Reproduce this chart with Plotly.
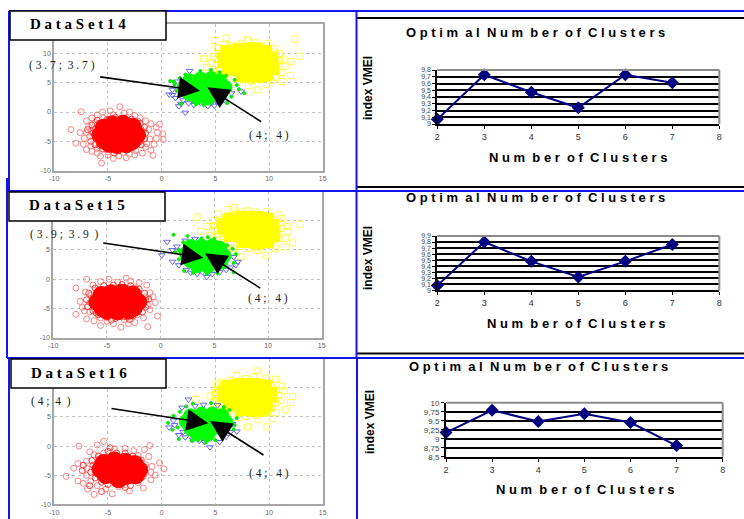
import plotly.graph_objects as go

W, H = 744, 519

# ---- cluster points (x, y) ----
RED1_OUT = [(-8.45,-3),(-7.5,0.05),(-3.9,0.9),(-4.8,0.2),(-5.6,-8.7),(-8,-5.3),(-7.6,-3.5),(0.15,-4.7),(0.1,-3.7),(-0.2,-2.1),(-0.8,-7.4),(-3.3,-7.8),(-5.7,-7.5),
 (-7,-1.5),(-6.5,-1),(-6,-0.5),(-5.5,0),(-4.5,-0.5),(-3.5,-0.2),(-3,0),(-2.5,-0.6),(-2,-1),(-1.5,-1.5),(-1,-2),(-0.5,-2.6),(-0.4,-3.5),(-0.5,-4.5),(-0.7,-5.5),(-1,-6.5),(-1.5,-6),(-1.8,-7),(-2.5,-7.3),(-3,-7.2),(-4,-7.5),(-4.5,-7.9),(-5,-7.3),(-6,-7),(-6.5,-6.7),(-7,-6.4),(-7.3,-5.5),(-7.2,-4.5),(-7,-3.5),(-6.8,-2.5),
 (-6.6,-5.8),(-6.2,-1.8),(-5.4,-1),(-2.2,-1.6),(-1.2,-3),(-1.1,-4.6),(-1.4,-5.4),(-2.4,-6.6),(-3.6,-6.9),(-5,-6.8),(-6,-6.2),(-6.7,-4.2),(-6.6,-3.2)]
RED1_MID = [(-6.5,-2.2),(-6,-1.4),(-5.1,-1.3),(-4.3,-0.9),(-3.5,-1),(-2.8,-1.2),(-2,-1.9),(-1.6,-2.6),(-1.5,-3.6),(-1.6,-4.6),(-1.9,-5.6),(-2.7,-6.1),(-3.2,-6.4),(-4,-6.6),(-4.7,-6.3),(-5.5,-6.3),(-6.2,-5.6),(-6.6,-5),(-6.4,-3.6),(-6.2,-2.9),(-5.8,-1.9),(-3,-1.6),(-1.9,-3),(-2,-5),(-4.4,-7),(-5.8,-5.7),(-6.9,-3),(-3.9,-1.3)]
RED1_CORE = [(-5.4,-2.7),(-4.6,-2.1),(-3.6,-2),(-2.7,-2.5),(-5.7,-3.9),(-4.9,-3.6),(-4,-3.4),(-3,-3.6),(-2.3,-3.9),(-5.3,-4.9),(-4.5,-5),(-3.6,-4.9),(-2.7,-4.9),(-4.2,-5.6),(-3.3,-5.5),(-4.9,-5.4)]
YEL1_OUT = [(6,12.6),(4.9,12.2),(8,12.3),(12.4,12.4),(12.9,9.5),(12.05,8.6),(9.9,11.7),(3.9,9.1),(4.2,7.6),(12,6.2),(11.2,5.2),(8.9,3.8),(8.1,4.5),(9.8,4.7),(10.6,5.9),
 (5.2,10.9),(6.5,11.4),(7.4,11.6),(8.7,11.9),(9.3,11.2),(10.4,10.8),(11,10),(11.4,9),(11.5,7.8),(11.2,6.7),(10.2,5.4),(7,5),(6,5.6),(5,6.4),(4.6,8.3),(4.8,9.5),(5.8,11.5)]
YEL1_MID = [(5.3,10),(5.8,10.7),(6.6,11),(7.5,11.1),(8.4,11.3),(9.2,10.9),(10,10.4),(10.7,9.7),(11,8.8),(10.9,7.8),(10.6,6.9),(10,6),(9.2,5.5),(8.4,5.3),(7.6,5.5),(6.8,5.8),(6,6.4),(5.4,7.1),(5.1,8),(5.1,9)]
YEL1_CORE = [(6.3,10),(7.4,10.4),(8.5,10.5),(9.5,10.1),(5.9,8.9),(6.9,9),(8,9),(9.1,9),(10.1,8.8),(6.4,7.6),(7.4,7.4),(8.5,7.4),(9.6,7.5),(10.2,7.6),(7.7,6.5),(8.8,6.4),(9.5,6.6)]
BLU1 = [(2.2,-0.1),(0.7,3),(1.6,1),(4.3,1),(7.4,3.5),(1,3.8),(1.5,5.2),(2.6,7),(3,1.2),(4.6,1.5),(5.8,2),(6.5,3.2),(2,2),(1.3,2.4),(3.6,1.6),(2.5,1.5),(1,2.9),(4.9,1.1),(1.8,1.4),(5.2,1.7)]
GRN1_OUT = [(0.8,5.3),(7.7,3.2),(3.6,7),(4.6,7.2),(6.1,1.5),(1.8,1.4),(7,4.6),(1.2,4.7),(6.8,5.5),(3.2,1.3),(1.1,5.2),(7.2,3.9),(6.5,2.6),(1.7,5.8),(2.2,6.4),(5.4,6.8),(6,6.2),(3.9,1.2),(1.4,3.6)]
GRN1_CORE = [(2.6,5.3),(3.6,5.6),(4.6,5.7),(5.4,5.3),(2.1,4.2),(3,4.3),(4,4.3),(5,4.3),(5.9,4.2),(2.6,3.1),(3.6,3),(4.6,3),(5.5,3.2),(3.3,2.5),(4.3,2.4)]

RED2_OUT = [(-7.9,-1.5),(-6.9,0),(-7.9,-6),(-6.9,-6.8),(-1.2,-8.1),(-3.7,-8.2),(-0.3,-6.3),(-0.5,-4),(-3.2,0.2),(-4.8,0),(-2,-0.6),
 (-7.5,-3.8),(-7,-2.2),(-6.3,-1),(-5.6,-0.4),(-4,-0.5),(-2.8,-0.3),(-1.3,-1),(-1,-2.3),(-0.7,-3),(-1,-5.2),(-1.6,-6.6),(-2.4,-7.4),(-3,-7.6),(-4.4,-7.6),(-5.6,-7.9),(-5,-7.2),(-6.2,-7.1),(-6.6,-5.6),(-7.3,-4.8),(-7.1,-5.4),(-6.6,-4),(-6.5,-2.8),(-5.8,-1.8),(-2.4,-1.5),(-1.4,-3),(-1.2,-4.4),(-2.2,-6.1),(-3.4,-6.9),(-5.6,-6.6)]
RED2_MID = [(-6.7,-2.4),(-6.1,-1.5),(-5.3,-1.1),(-4.4,-1),(-3.6,-0.9),(-2.8,-1.1),(-2,-1.7),(-1.5,-2.4),(-1.1,-3.4),(-1.4,-4.8),(-1.7,-5.6),(-2.6,-6.3),(-3.4,-6.4),(-4.2,-6.7),(-5,-6.5),(-5.8,-6.1),(-6.3,-5.4),(-6.8,-4.7),(-6.9,-3.5),(-6.1,-3),(-2.1,-2.4),(-1.8,-4.4),(-4.9,-1.6),(-3.2,-1.5),(-6,-5.8),(-4.6,-7),(-2.9,-6.9),(-1.4,-3.6)]
RED2_CORE = [(-5.5,-2.7),(-4.6,-2.4),(-3.6,-2.3),(-2.6,-2.6),(-5.9,-3.9),(-5,-3.7),(-4,-3.7),(-3,-3.7),(-2.1,-3.9),(-5.4,-5),(-4.4,-5),(-3.4,-5),(-2.5,-4.9),(-4,-5.5),(-3,-5.4),(-5,-5.4)]
YEL2_OUT = [(6.8,12.3),(3.4,10.6),(8.1,11.7),(13,9.4),(12.3,6.2),(11.7,5.5),(9.8,4.1),(7.5,3.8),(3.7,8.2),
 (5.4,11.2),(6.3,11.9),(7.5,11.5),(8.9,11.5),(9.9,11.6),(11,11),(11.3,10.4),(11.8,9),(11.9,8.2),(11.6,7),(10.7,5.3),(9,4.9),(6.8,5.2),(5.7,6.3),(4.5,7.5),(4.3,9),(5,10)]
YEL2_MID = [(5.4,9.9),(6,10.6),(6.9,11),(7.9,11),(8.8,11.1),(9.7,10.9),(10.4,10.3),(11,9.6),(11.2,8.7),(11,7.7),(10.6,6.7),(10,5.9),(9.1,5.5),(8.2,5.3),(7.3,5.6),(6.5,6),(5.9,6.9),(5.3,7.7),(5,8.4),(4.9,9.2)]
YEL2_CORE = [(6.6,10),(7.7,10.3),(8.8,10.3),(9.8,10),(6,9),(7,8.9),(8.1,9),(9.2,9),(10.3,8.9),(6.6,7.8),(7.6,7.6),(8.7,7.6),(9.8,7.7),(10.4,7.7),(7.9,6.7),(9,6.5),(9.8,6.7)]
BLU2 = [(0.1,4.1),(0.6,6.4),(4.3,0.4),(7.2,3),(3.4,0.9),(1.1,3),(1.5,5.6),(2.3,6.6),(3.2,6.9),(6.5,2),(5.5,1.2),(2.4,1.6),(1.7,2.4),(6.8,3.8),(4.8,0.9),(1.1,5),(2.8,1.1),(6.1,1.6),(7,2.4),(3.9,1.2)]
GRN2_OUT = [(1.2,7.6),(2.5,7.4),(6.8,1.2),(3.8,7),(1.4,4.6),(5.3,1),(7,4.3),(2.2,1.4),(5,6.9),(6.2,5.8),(1.7,5),(6.7,5.2),(2.1,6.3),(4.4,7.2),(4.3,0.9),(3,1.1),(1.7,3.4),(6.8,2.8)]
GRN2_CORE = [(2.8,5.6),(3.8,5.7),(4.8,5.7),(5.5,5.3),(2.4,4.4),(3.3,4.4),(4.3,4.4),(5.3,4.4),(5.9,4),(2.8,3.1),(3.8,3),(4.8,3),(5.6,2.9),(3.4,2.3),(4.4,2.2)]

RED3_OUT = [(-8.9,-5.2),(-7.7,0),(-5.4,0.8),(-6,0.2),(-1.1,0.1),(-6.3,-8.3),(-4.6,-8.2),(-6.9,-7.4),(0.2,-3.9),(-0.2,-2.9),(-0.6,-5),(-1.7,-7.2),
 (-8.2,-3.8),(-7.8,-3),(-7.8,-6),(-7.3,-6.4),(-6.7,-1),(-6.3,-1.5),(-4.4,-0.5),(-3.4,-0.4),(-2.6,-0.8),(-1.6,-0.6),(-1.2,-1.8),(-0.9,-3.5),(-1,-4.5),(-1,-5.8),(-2.2,-6.3),(-3,-7.7),(-4,-7),(-5.2,-7.4),(-6,-6.8),(-6.6,-6),(-7,-5),(-7,-3.8),(-7,-2.6),(-5.4,-1.2),(-2.2,-1.6),(-1.5,-3.2),(-1.5,-4.7),(-3.4,-6.6)]
RED3_MID = [(-6.5,-2.5),(-5.9,-1.7),(-5,-0.9),(-4.2,-1.2),(-3.4,-1.2),(-2.7,-1.7),(-1.9,-2.4),(-1.6,-3.6),(-1.8,-5.3),(-2.6,-5.9),(-3.4,-7.1),(-4.3,-6.5),(-5,-6.6),(-5.6,-6.2),(-6.2,-5.5),(-6.6,-4.5),(-6.4,-3.3),(-5.8,-2.4),(-2.9,-6.8),(-5.6,-7.8),(-6.7,-6.8),(-7.4,-4.2),(-7.3,-3.3),(-4.8,-0.3)]
RED3_CORE = [(-5.4,-2.9),(-4.4,-2.5),(-3.4,-2.7),(-2.5,-3.1),(-5.7,-4),(-4.8,-3.9),(-3.8,-3.9),(-2.8,-4),(-2.1,-4.1),(-5.2,-5),(-4.2,-5.2),(-3.2,-5.1),(-2.4,-5),(-4,-5.7)]
YEL3_OUT = [(8.9,12.9),(7,12.1),(3.2,8),(12.2,8.5),(12,7.5),(11.5,6.2),(9.8,3.3),(8,3.3),(10.3,4.7),
 (5.2,10.6),(6.4,11.3),(7.8,11.6),(8.6,11.9),(9.7,11.7),(10.6,11.5),(11.2,10.3),(11.4,9.5),(11.1,7.8),(10.7,5.7),(9,4.6),(7.2,4.9),(6.2,5.8),(4.8,7.4),(4.5,8.6),(5.6,11)]
YEL3_MID = [(5.2,9.8),(5.8,10.5),(6.7,10.9),(7.6,11),(8.5,11.1),(9.4,10.9),(10.2,10.4),(10.7,9.6),(10.9,8.7),(10.6,7.4),(10.3,6.5),(9.6,5.6),(8.8,5.3),(7.9,5.1),(7,5.6),(6.3,6.3),(5.6,7),(5.1,7.8),(5,8.6),(5,9.2)]
YEL3_CORE = [(6.3,10),(7.4,10.3),(8.5,10.3),(9.5,10),(5.9,8.9),(6.9,9),(8,9),(9.1,9),(10,8.8),(6.4,7.6),(7.4,7.4),(8.5,7.4),(9.6,7.4),(7.6,6.5),(8.7,6.4),(9.4,6.6)]
BLU3 = [(2.5,8),(3.9,7.1),(4.5,-0.2),(0.7,3.2),(7,2.5),(2,2.4),(1.6,1.9),(3.5,0.9),(6.6,3.8),(1.1,4.4),(5.2,7),(2.9,1.1),(6,1.6),(1.9,6.6),(5.4,0.7),(1.2,3.6),(3.1,6.9),(6.4,2.4),(4,0.7),(2.2,1.5)]
GRN3_OUT = [(0.6,4),(1,2.8),(1.6,1.2),(2.8,0.9),(4.1,0.6),(7,4.8),(6.7,2.9),(2.3,6.8),(4.6,7.4),(6.3,6.2),(1.1,5.2),(1.5,3.2),(6.8,3.6),(3.4,1),(5,1),(5.8,6.7),(2.9,7.3),(1.7,5.9)]
GRN3_CORE = [(2.7,5.2),(3.7,5.5),(4.7,5.5),(5.6,5.2),(2.3,4.2),(3.2,4.2),(4.2,4.3),(5.2,4.3),(6,4.1),(2.7,3),(3.7,2.9),(4.7,3),(5.6,3),(3.3,2.1),(4.3,2)]

SCATTER_DATA = [
    (RED1_OUT, RED1_MID, RED1_CORE, YEL1_OUT, YEL1_MID, YEL1_CORE, BLU1, GRN1_OUT, GRN1_CORE),
    (RED2_OUT, RED2_MID, RED2_CORE, YEL2_OUT, YEL2_MID, YEL2_CORE, BLU2, GRN2_OUT, GRN2_CORE),
    (RED3_OUT, RED3_MID, RED3_CORE, YEL3_OUT, YEL3_MID, YEL3_CORE, BLU3, GRN3_OUT, GRN3_CORE),
]
SC_TICKS = [-10, -5, 0, 5, 10, 15]
SC_X_LABELS = ["-10", "-5", "0", "5", "10", "15"]
# labels the name boxes cover in the reference are left out
SC_Y_LABELS = [["-10", "-5", "0", "5", "10", ""], ["-10", "-5", "0", "5", "", ""], ["-10", "-5", "0", "5", "", ""]]

# ---- line charts ----
CLUSTERS = [2, 3, 4, 5, 6, 7]
VMEI_14 = [9.07, 9.73, 9.47, 9.24, 9.73, 9.61]
VMEI_15 = [9.08, 9.8, 9.48, 9.22, 9.48, 9.76]
VMEI_16 = [9.17, 9.79, 9.48, 9.69, 9.45, 8.81]
TICKS_14 = [9, 9.1, 9.2, 9.3, 9.4, 9.5, 9.6, 9.7, 9.8]
LABELS_14 = ["9", "9,1", "9,2", "9,3", "9,4", "9,5", "9,6", "9,7", "9,8"]
TICKS_15 = [9, 9.1, 9.2, 9.3, 9.4, 9.5, 9.6, 9.7, 9.8, 9.9]
LABELS_15 = ["9", "9,1", "9,2", "9,3", "9,4", "9,5", "9,6", "9,7", "9,8", "9,9"]
TICKS_16 = [8.5, 8.75, 9, 9.25, 9.5, 9.75, 10]
LABELS_16 = ["8,5", "8,75", "9", "9,25", "9,5", "9,75", "10"]
NAMES = ["D a t a S e t 1 4", "D a t a S e t 1 5", "D a t a S e t 1 6"]
LEFT_LABELS = ["( 3 . 7 ;  3 . 7 )", "( 3 . 9 ;  3 . 9  )", "( 4 ;  4  )"]
TITLE = "O p t i m  a l  N u m  b e r  o f  C l u s t e r s"
XTITLE = "N u m  b e r  o f  C l u s t e r s"

# ---- layout geometry (pixels) ----
SC_BOX = [(54.3, 322.7, 24, 170.7), (53.3, 321.7, 191.5, 337.7), (54.3, 322.7, 358.7, 504.3)]
LN_BOX = [(437.3, 719.3, 70, 124), (437.3, 719.3, 236, 290.3), (446, 722.7, 402.7, 456.7)]
SC_ARROWS = [((98.7,76.7,200,90.7),(262.7,122.7,207.3,87.3)),
             ((101.7,242.7,203.3,257.7),(261.7,289,205,253.3)),
             ((110,408.3,208.3,423.3),(265,456,210,421))]
NAME_BOX = [(10,11,166,40),(9,192,165,221),(11,359,166,388)]
LEFT_POS = [(62.5,65),(64.5,234),(51.5,401.7)]
RIGHT_POS = [(268.5,136),(267.5,298),(268.5,473)]
TITLE_POS = [(535,32),(535,198),(538,366)]
XT_POS = [(577.5,157),(576,323),(585,489)]
YT_POS = [(368,88),(368,258),(370,422)]
TAILS = [([1.98,2],[8.95,9.07]),([1.98,2],[8.95,9.08]),([1.92,2],[8.41,9.17])]

fx = lambda p: p / W
fy = lambda p: 1 - p / H

fig = go.Figure()
shapes, anns = [], []

def line_px(x0, y0, x1, y1, color, width):
    shapes.append(dict(type="line", xref="paper", yref="paper", x0=fx(x0), x1=fx(x1), y0=fy(y0), y1=fy(y1),
                       line=dict(color=color, width=width)))

def text_px(x, y, text, **kw):
    anns.append(dict(xref="paper", yref="paper", x=fx(x), y=fy(y), text=text, showarrow=False,
                     xanchor="center", yanchor="middle", **kw))

AX = {}
def add_cloud(pts, ax, sym, color, size, filled, opacity=1, lw=1):
    fig.add_trace(go.Scatter(x=[p[0] for p in pts], y=[p[1] for p in pts], mode="markers", xaxis=f"x{ax}", yaxis=f"y{ax}",
        showlegend=False, hoverinfo="skip", opacity=opacity,
        marker=dict(symbol=sym if filled else sym + "-open", size=size, color=color, line=dict(width=lw, color=color))))

for i in range(3):
    a = i + 1
    ro, rm, rc, yo, ym, yc, bl, go_, gc = SCATTER_DATA[i]
    add_cloud(ro, a, "circle", "#ff3030", 6, False, 0.6)
    add_cloud(rm, a, "circle", "#ff2020", 6, False, 0.85)
    add_cloud(rc, a, "circle", "#ff0000", 17, True)
    add_cloud(yo, a, "square", "#ffff40", 6, False, 0.9)
    add_cloud(ym, a, "square", "#ffff20", 6, False)
    add_cloud(yc, a, "square", "#ffff00", 15, True)
    add_cloud(bl, a, "triangle-down", "#2a2ae0", 6, False, 0.7)
    add_cloud(go_, a, "circle", "#00ee00", 3, True)
    add_cloud(gc, a, "circle", "#00ff00", 14, True)
    x0, x1, y0, y1 = SC_BOX[i]
    AX[f"xaxis{a}"] = dict(domain=[fx(x0), fx(x1)], range=[-10, 15], anchor=f"y{a}", tickvals=SC_TICKS, ticktext=SC_X_LABELS,
        showgrid=True, gridcolor="#c4c4c4", griddash="dot", gridwidth=1, zeroline=False, showline=True, mirror=True,
        linecolor="#a6a6a6", linewidth=2, ticks="", tickfont=dict(size=7, color="#666666", family="Liberation Sans"))
    AX[f"yaxis{a}"] = dict(domain=[fy(y1), fy(y0)], range=[-10, 15], anchor=f"x{a}", tickvals=SC_TICKS, ticktext=SC_Y_LABELS[i],
        showgrid=True, gridcolor="#c4c4c4", griddash="dot", gridwidth=1, zeroline=False, showline=True, mirror=True,
        linecolor="#a6a6a6", linewidth=2, ticks="", tickfont=dict(size=7, color="#666666", family="Liberation Sans"))

for i, (vals, tv, tl, rng) in enumerate([(VMEI_14, TICKS_14, LABELS_14, [9, 9.8]),
                                        (VMEI_15, TICKS_15, LABELS_15, [9, 9.9]),
                                        (VMEI_16, TICKS_16, LABELS_16, [8.5, 10])]):
    a = i + 4
    x0, x1, y0, y1 = LN_BOX[i]
    tx, ty = TAILS[i]
    fig.add_trace(go.Scatter(x=tx, y=ty, mode="lines", xaxis=f"x{a}", yaxis=f"y{a}", showlegend=False, hoverinfo="skip",
                             cliponaxis=False, line=dict(color="#000080", width=2)))
    fig.add_trace(go.Scatter(x=CLUSTERS, y=vals, mode="lines+markers", xaxis=f"x{a}", yaxis=f"y{a}", showlegend=False,
                             cliponaxis=False, line=dict(color="#000080", width=2),
                             marker=dict(symbol="diamond", size=10, color="#000080")))
    AX[f"xaxis{a}"] = dict(domain=[fx(x0), fx(x1)], range=[2, 8], anchor=f"y{a}", tickvals=[2,3,4,5,6,7,8],
        showgrid=False, zeroline=False, showline=True, linecolor="#000000", linewidth=2, ticks="outside", ticklen=3, tickcolor="#000",
        tickfont=dict(size=9, color="#333333", family="Liberation Sans"))
    AX[f"yaxis{a}"] = dict(domain=[fy(y1), fy(y0)], range=rng, anchor=f"x{a}", tickvals=tv, ticktext=tl,
        showgrid=True, gridcolor="#000000", gridwidth=1.5, zeroline=False, showline=True, linecolor="#000000", linewidth=2,
        ticks="outside", ticklen=3, tickcolor="#000", tickfont=dict(size=7 if i < 2 else 8, color="#444444", family="Liberation Sans"))
    line_px(x0, y0, x1, y0, "#8c8c8c", 2)
    line_px(x1, y0, x1, y1, "#8c8c8c", 2)
    text_px(*TITLE_POS[i], f"<b>{TITLE}</b>", font=dict(size=13, color="#000", family="Liberation Sans"))
    text_px(*XT_POS[i], f"<b>{XTITLE}</b>", font=dict(size=13, color="#000", family="Liberation Sans"))
    text_px(*YT_POS[i], "<b>index VMEI</b>", textangle=-90, font=dict(size=12, color="#000", family="Liberation Sans"))

# frames
for (x0, y0, x1, y1) in [(357,18,744,18),(357,187,744,187),(357,353.5,744,353.5)]:
    line_px(x0, y0, x1, y1, "#000000", 2)
for (x0, y0, x1, y1) in [(9,11,744,11),(9,11,9,191),(356.5,11,356.5,358),(7,191,744,191),(7,178,7,358),(7,358,744,358),(9,358,9,519),(357,358,357,519)]:
    line_px(x0, y0, x1, y1, "#1414f0", 2)

for i in range(3):
    bx0, by0, bx1, by1 = NAME_BOX[i]
    shapes.append(dict(type="rect", xref="paper", yref="paper", x0=fx(bx0), x1=fx(bx1), y0=fy(by1), y1=fy(by0),
                       fillcolor="#ffffff", line=dict(color="#000000", width=1.5)))
    text_px((bx0 + bx1) / 2 - 10, (by0 + by1) / 2 - 1, f"<b>{NAMES[i]}</b>", font=dict(size=15, color="#000", family="Liberation Serif"))
    text_px(*LEFT_POS[i], LEFT_LABELS[i], font=dict(size=11.5, color="#222", family="Liberation Serif"))
    text_px(*RIGHT_POS[i], "( 4 ;   4 )", font=dict(size=11.5, color="#222", family="Liberation Serif"))
    for (sx, sy, ex, ey) in SC_ARROWS[i]:
        anns.append(dict(xref="paper", yref="paper", x=fx(ex), y=fy(ey), axref="pixel", ayref="pixel",
                         ax=sx - ex, ay=sy - ey, text="", showarrow=True, arrowhead=2, arrowsize=2.7, arrowwidth=1.6,
                         arrowcolor="#000000", standoff=0))

fig.update_layout(width=W, height=H, margin=dict(l=0, r=0, t=0, b=0, autoexpand=False), autosize=False,
                  paper_bgcolor="#ffffff", plot_bgcolor="#ffffff", showlegend=False,
                  shapes=shapes, annotations=anns, **AX)
fig.write_html("out.html", config=dict(displayModeBar=False), post_script="document.body.style.margin='0';")
